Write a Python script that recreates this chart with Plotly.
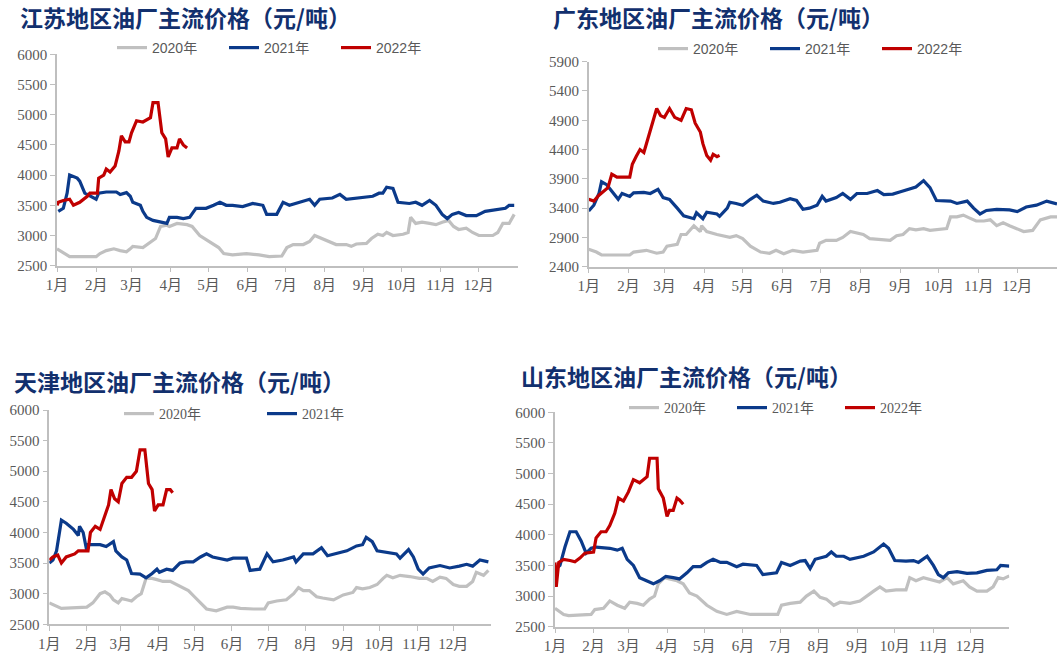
import plotly.graph_objects as go

# day-of-year (0 = Jan 1) at which each month starts, and the labels
MONTH_DAYS = [0, 31, 59, 90, 120, 151, 181, 212, 243, 273, 304, 334]
MONTH_LABELS = ['1月', '2月', '3月', '4月', '5月', '6月', '7月', '8月', '9月', '10月', '11月', '12月']

# ---- 江苏 ----
js_2020_d = [0, 8, 10, 31, 34, 39, 45, 50, 55, 58, 60, 68, 74, 78, 82, 87, 89, 95, 103, 107, 113, 120, 128, 132, 139, 150, 160, 168, 178, 182, 187, 195, 200, 204, 210, 216, 221, 229, 233, 237, 245, 249, 254, 258, 261, 266, 274, 278, 280, 284, 289, 295, 300, 305, 310, 314, 318, 324, 329, 334, 345, 349, 353, 358, 362]
js_2020_v = [2780, 2680, 2650, 2650, 2700, 2750, 2780, 2750, 2730, 2780, 2820, 2800, 2900, 2950, 3150, 3170, 3150, 3200, 3180, 3150, 3000, 2900, 2800, 2700, 2680, 2700, 2680, 2650, 2660, 2800, 2850, 2850, 2900, 3000, 2950, 2900, 2850, 2850, 2820, 2860, 2870, 2950, 3020, 3000, 3050, 3000, 3020, 3050, 3300, 3200, 3220, 3200, 3180, 3220, 3250, 3150, 3100, 3120, 3050, 3000, 3000, 3050, 3200, 3200, 3350]
js_2021_d = [1, 5, 8, 10, 16, 18, 22, 26, 31, 33, 39, 47, 50, 55, 58, 60, 66, 68, 71, 76, 82, 87, 89, 95, 100, 105, 110, 118, 124, 129, 134, 139, 147, 155, 163, 166, 174, 179, 184, 192, 200, 204, 208, 218, 224, 229, 240, 250, 255, 258, 261, 266, 270, 279, 284, 289, 295, 300, 305, 309, 313, 318, 324, 332, 339, 347, 355, 358, 362]
js_2021_v = [3400, 3450, 3700, 4000, 3950, 3900, 3700, 3650, 3600, 3700, 3720, 3720, 3680, 3710, 3650, 3550, 3500, 3400, 3300, 3250, 3220, 3200, 3300, 3300, 3280, 3300, 3450, 3450, 3500, 3550, 3500, 3500, 3480, 3530, 3500, 3350, 3350, 3550, 3500, 3550, 3600, 3500, 3600, 3620, 3680, 3600, 3620, 3650, 3700, 3700, 3800, 3780, 3550, 3530, 3550, 3500, 3580, 3500, 3350, 3280, 3350, 3380, 3330, 3330, 3400, 3420, 3450, 3500, 3500]
js_2022_d = [0, 1, 5, 8, 10, 13, 18, 24, 26, 32, 33, 37, 39, 42, 46, 49, 51, 54, 57, 59, 63, 68, 74, 76, 80, 83, 86, 88, 91, 95, 97, 100, 103]
js_2022_v = [3500, 3550, 3580, 3600, 3600, 3500, 3550, 3650, 3700, 3700, 3950, 4000, 4100, 4050, 4150, 4400, 4650, 4550, 4550, 4700, 4900, 4880, 4950, 5200, 5200, 4700, 4600, 4300, 4450, 4450, 4600, 4500, 4450]

# ---- 广东 ----
gd_2020_d = [0, 6, 10, 32, 35, 45, 53, 58, 61, 69, 72, 76, 82, 87, 88, 92, 100, 105, 110, 115, 120, 126, 134, 141, 146, 152, 159, 167, 172, 178, 180, 185, 193, 198, 204, 209, 214, 219, 230, 235, 240, 245, 250, 255, 261, 266, 279, 282, 287, 292, 297, 302, 308, 313, 318, 323, 328, 334, 339, 346, 352, 360, 365]
gd_2020_v = [2700, 2650, 2600, 2600, 2650, 2680, 2630, 2650, 2750, 2780, 2950, 2950, 3100, 3000, 3100, 3000, 2950, 2920, 2900, 2930, 2880, 2750, 2650, 2630, 2680, 2620, 2680, 2650, 2660, 2680, 2800, 2850, 2850, 2900, 3000, 2980, 2950, 2880, 2850, 2850, 2930, 2950, 3050, 3030, 3050, 3020, 3050, 3250, 3250, 3280, 3230, 3180, 3180, 3200, 3100, 3150, 3100, 3050, 3000, 3020, 3200, 3250, 3250]
gd_2021_d = [0, 4, 8, 10, 14, 19, 23, 26, 32, 35, 43, 48, 54, 58, 63, 69, 74, 82, 84, 89, 92, 100, 102, 108, 110, 115, 120, 126, 131, 136, 144, 149, 157, 162, 167, 172, 178, 182, 185, 193, 198, 204, 209, 217, 225, 230, 237, 243, 250, 255, 261, 266, 271, 282, 287, 295, 300, 305, 310, 318, 328, 334, 341, 349, 357, 365]
gd_2021_v = [3350, 3450, 3650, 3850, 3800, 3650, 3550, 3650, 3600, 3660, 3670, 3650, 3720, 3580, 3550, 3400, 3270, 3220, 3320, 3220, 3330, 3300, 3260, 3400, 3500, 3480, 3450, 3550, 3620, 3520, 3480, 3500, 3560, 3530, 3380, 3400, 3450, 3600, 3520, 3580, 3650, 3550, 3650, 3650, 3700, 3630, 3640, 3680, 3720, 3760, 3870, 3750, 3530, 3520, 3480, 3520, 3400, 3300, 3360, 3380, 3370, 3340, 3420, 3450, 3520, 3470]
gd_2022_d = [0, 4, 8, 11, 15, 18, 22, 32, 34, 37, 40, 43, 45, 48, 50, 53, 56, 59, 63, 67, 72, 76, 80, 83, 87, 89, 92, 95, 97, 100, 102]
gd_2022_v = [3550, 3520, 3620, 3680, 3750, 3980, 3930, 3930, 4150, 4280, 4400, 4350, 4500, 4700, 4850, 5100, 4980, 4950, 5100, 4950, 4900, 5100, 5080, 4850, 4700, 4500, 4300, 4220, 4320, 4280, 4300]

# ---- 天津 ----
tj_2020_d = [0, 7, 10, 31, 36, 42, 46, 50, 53, 57, 60, 64, 68, 72, 76, 80, 85, 89, 94, 100, 105, 109, 115, 120, 125, 130, 138, 147, 152, 158, 169, 178, 181, 188, 196, 202, 206, 210, 215, 221, 226, 235, 243, 251, 254, 259, 265, 271, 276, 279, 284, 290, 298, 306, 312, 317, 323, 328, 334, 339, 345, 350, 353, 359, 363]
tj_2020_v = [2850, 2780, 2760, 2780, 2850, 3000, 3030, 2980, 2900, 2850, 2920, 2900, 2880, 2950, 3000, 3250, 3250, 3230, 3200, 3200, 3150, 3100, 3050, 2950, 2850, 2750, 2720, 2780, 2780, 2760, 2750, 2750, 2850, 2880, 2900, 3000, 3100, 3050, 3050, 2950, 2930, 2900, 2980, 3020, 3100, 3080, 3100, 3150, 3250, 3300, 3260, 3300, 3280, 3250, 3250, 3200, 3270, 3250, 3150, 3120, 3120, 3200, 3350, 3300, 3380]
tj_2021_d = [0, 3, 6, 10, 14, 20, 24, 25, 28, 31, 32, 42, 47, 53, 55, 60, 64, 68, 75, 80, 85, 89, 91, 97, 102, 108, 113, 119, 125, 130, 135, 141, 147, 152, 163, 166, 174, 180, 185, 193, 202, 204, 210, 218, 225, 230, 237, 246, 254, 259, 262, 267, 271, 279, 287, 290, 297, 301, 305, 309, 314, 323, 331, 339, 345, 350, 356, 363]
tj_2021_v = [3500, 3550, 3700, 4200, 4150, 4050, 3950, 4100, 4000, 3700, 3800, 3800, 3770, 3850, 3700, 3600, 3550, 3330, 3320, 3260, 3330, 3400, 3350, 3400, 3380, 3500, 3520, 3520, 3600, 3650, 3600, 3570, 3550, 3580, 3580, 3380, 3400, 3650, 3520, 3550, 3600, 3520, 3650, 3650, 3750, 3620, 3650, 3700, 3780, 3800, 3920, 3850, 3700, 3680, 3650, 3580, 3720, 3600, 3400, 3320, 3420, 3460, 3420, 3450, 3480, 3450, 3550, 3520]
tj_2022_d = [0, 3, 7, 10, 14, 21, 24, 32, 34, 38, 42, 46, 49, 51, 54, 57, 60, 64, 68, 72, 75, 79, 82, 85, 87, 90, 94, 97, 100, 102]
tj_2022_v = [3550, 3600, 3630, 3500, 3600, 3650, 3700, 3700, 4000, 4100, 4050, 4300, 4450, 4700, 4550, 4500, 4800, 4900, 4900, 5000, 5350, 5350, 4800, 4700, 4350, 4450, 4450, 4700, 4700, 4650]

# ---- 山东 ----
sd_2020_d = [0, 7, 11, 29, 32, 39, 44, 50, 56, 60, 66, 71, 76, 80, 83, 88, 92, 98, 103, 108, 114, 122, 130, 138, 146, 157, 167, 179, 182, 189, 197, 202, 208, 213, 218, 224, 229, 237, 245, 250, 256, 261, 266, 274, 282, 285, 290, 296, 304, 309, 315, 320, 328, 333, 339, 347, 352, 356, 360, 365]
sd_2020_v = [2800, 2700, 2680, 2700, 2780, 2800, 2920, 2850, 2800, 2900, 2880, 2850, 2950, 3000, 3200, 3300, 3280, 3250, 3200, 3050, 3000, 2850, 2750, 2700, 2750, 2700, 2700, 2700, 2850, 2880, 2900, 3000, 3080, 2980, 2950, 2850, 2900, 2880, 2920, 3000, 3080, 3150, 3080, 3100, 3100, 3300, 3250, 3300, 3250, 3230, 3300, 3200, 3250, 3150, 3080, 3080, 3150, 3300, 3280, 3330]
sd_2021_d = [1, 4, 8, 12, 17, 21, 25, 29, 33, 44, 50, 54, 58, 63, 68, 74, 79, 84, 89, 95, 100, 106, 111, 117, 122, 127, 133, 138, 146, 151, 162, 167, 178, 182, 189, 197, 201, 205, 209, 218, 222, 226, 232, 237, 248, 256, 261, 264, 268, 273, 282, 288, 292, 299, 304, 308, 312, 316, 323, 331, 339, 347, 355, 358, 365]
sd_2021_v = [3450, 3500, 3800, 4050, 4050, 3900, 3700, 3780, 3800, 3780, 3750, 3780, 3600, 3500, 3300, 3250, 3200, 3250, 3320, 3300, 3280, 3380, 3480, 3480, 3550, 3600, 3550, 3550, 3480, 3520, 3500, 3350, 3380, 3550, 3500, 3570, 3580, 3450, 3600, 3650, 3720, 3650, 3650, 3600, 3650, 3720, 3800, 3850, 3780, 3580, 3570, 3580, 3550, 3650, 3500, 3350, 3300, 3380, 3400, 3370, 3380, 3420, 3430, 3500, 3490]
sd_2022_d = [0, 1, 3, 7, 12, 16, 20, 24, 31, 33, 37, 41, 44, 48, 51, 55, 59, 63, 68, 74, 76, 82, 83, 87, 90, 92, 95, 98, 100, 103]
sd_2022_v = [3550, 3150, 3550, 3600, 3580, 3560, 3620, 3700, 3720, 3950, 4050, 4050, 4150, 4350, 4600, 4550, 4700, 4900, 4850, 4950, 5250, 5250, 4750, 4600, 4300, 4400, 4400, 4600, 4570, 4500]

YEARS = ['2020年', '2021年', '2022年']
COLORS = ['#C0C0C0', '#0B3A8A', '#C00000']

TITLE_COLOR = '#12306E'
TICK_COLOR = '#595959'
AXIS_COLOR = '#BFBFBF'

panels = [
    dict(title='江苏地区油厂主流价格（元/吨）', series=[(js_2020_d, js_2020_v), (js_2021_d, js_2021_v), (js_2022_d, js_2022_v)],
         xdom=[57 / 1057, 518 / 1057], ydom=[1 - 265.7 / 658, 1 - 54.3 / 658],
         yrange=[2500, 6000], ydtick=500, title_xy=(18, 17),
         leg_xy=(280, 48), leg_font='Liberation Sans', leg_w=67, show2022=True),
    dict(title='广东地区油厂主流价格（元/吨）', series=[(gd_2020_d, gd_2020_v), (gd_2021_d, gd_2021_v), (gd_2022_d, gd_2022_v)],
         xdom=[588.7 / 1057, 1.0], ydom=[1 - 266.7 / 658, 1 - 61.7 / 658],
         yrange=[2400, 5900], ydtick=500, title_xy=(551, 17),
         leg_xy=(821, 49), leg_font='Liberation Sans', leg_w=67, show2022=True),
    dict(title='天津地区油厂主流价格（元/吨）', series=[(tj_2020_d, tj_2020_v), (tj_2021_d, tj_2021_v), (tj_2022_d, tj_2022_v)],
         xdom=[49.3 / 1057, 490.8 / 1057], ydom=[1 - 624.3 / 658, 1 - 410 / 658],
         yrange=[2500, 6000], ydtick=500, title_xy=(12, 381),
         leg_xy=(262, 414), leg_font='Liberation Serif', leg_w=98, show2022=False),
    dict(title='山东地区油厂主流价格（元/吨）', series=[(sd_2020_d, sd_2020_v), (sd_2021_d, sd_2021_v), (sd_2022_d, sd_2022_v)],
         xdom=[555 / 1057, 1009.3 / 1057], ydom=[1 - 626.7 / 658, 1 - 412.3 / 658],
         yrange=[2500, 6000], ydtick=500, title_xy=(519, 376),
         leg_xy=(786, 408), leg_font='Liberation Serif', leg_w=63, show2022=True),
]

fig = go.Figure()
annotations = []
layout = {}

for i, p in enumerate(panels):
    n = '' if i == 0 else str(i + 1)
    leg = 'legend' + n
    for k, (d, v) in enumerate(p['series']):
        fig.add_trace(go.Scatter(
            x=d, y=v, mode='lines', name=YEARS[k],
            line=dict(color=COLORS[k], width=3.2),
            xaxis='x' + n, yaxis='y' + n, legend=leg,
            showlegend=(k < 2 or p['show2022']),
        ))
    layout['xaxis' + n] = dict(
        domain=p['xdom'], anchor='y' + n, range=[0, 365], automargin=False,
        tickmode='array', tickvals=MONTH_DAYS, ticktext=MONTH_LABELS,
        showgrid=False, zeroline=False, showline=True, linecolor=AXIS_COLOR, linewidth=1.5,
        ticks='outside', ticklen=5, tickcolor=AXIS_COLOR,
        tickfont=dict(family='Liberation Serif, Noto Sans CJK SC', size=15, color=TICK_COLOR),
    )
    layout['yaxis' + n] = dict(
        domain=p['ydom'], anchor='x' + n, range=p['yrange'], automargin=False,
        tick0=p['yrange'][0], dtick=p['ydtick'],
        showgrid=False, zeroline=False, showline=True, linecolor=AXIS_COLOR, linewidth=1.5,
        ticks='outside', ticklen=5, tickcolor=AXIS_COLOR,
        tickfont=dict(family='Liberation Serif', size=15, color=TICK_COLOR),
    )
    layout[leg] = dict(
        orientation='h', x=p['leg_xy'][0] / 1057, y=1 - p['leg_xy'][1] / 658,
        xanchor='center', yanchor='middle', bgcolor='rgba(0,0,0,0)',
        font=dict(family=p['leg_font'] + ', Noto Sans CJK SC', size=14, color=TICK_COLOR),
        itemwidth=30, tracegroupgap=0, entrywidth=p['leg_w'],
    )
    annotations.append(dict(
        text='<b>' + p['title'] + '</b>', xref='paper', yref='paper',
        x=p['title_xy'][0] / 1057, y=1 - p['title_xy'][1] / 658,
        xanchor='left', yanchor='middle', showarrow=False,
        font=dict(family='Noto Sans CJK SC', size=23, color=TITLE_COLOR),
    ))

fig.update_layout(
    width=1057, height=658,
    margin=dict(l=0, r=0, t=0, b=0),
    paper_bgcolor='white', plot_bgcolor='white',
    annotations=annotations,
    **layout,
)

# the page's default 8px body margin would push the figure off the window
fig.write_html('out.html', config={'displayModeBar': False},
               post_script="document.body.style.margin='0';")
